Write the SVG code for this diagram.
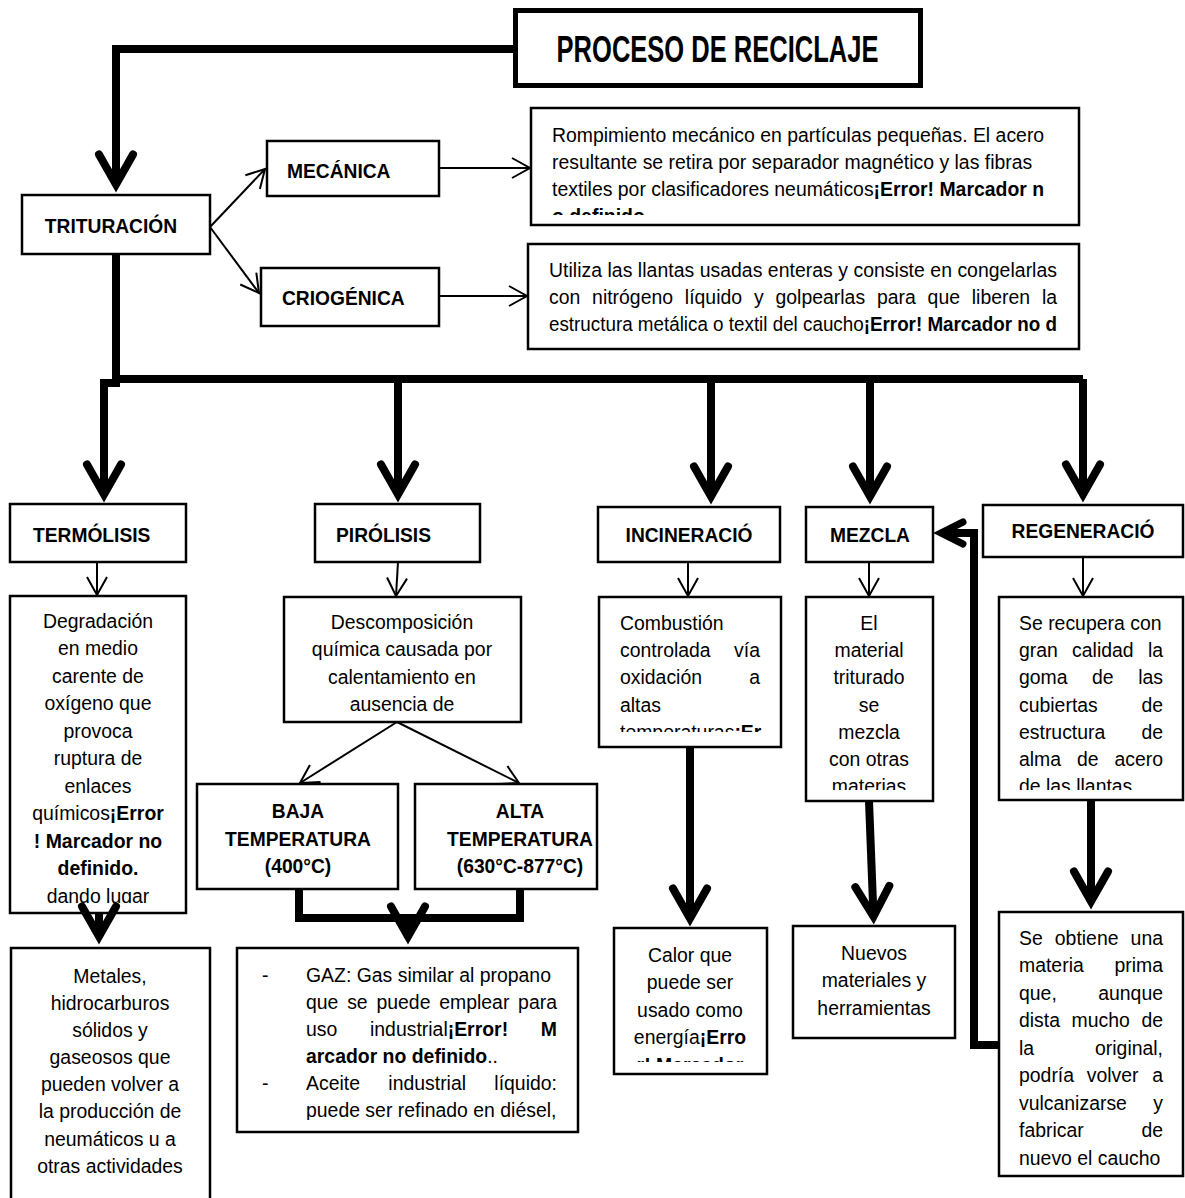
<svg xmlns="http://www.w3.org/2000/svg" width="1185" height="1198" viewBox="0 0 1185 1198">
<style>
  text { font-family: "Liberation Sans", Arial, sans-serif; fill: #000; }
  .t { font-size: 21px; }
  .b { font-weight: bold; }
  .h { font-size: 21px; font-weight: bold; }
  .ttl { font-size: 37px; font-weight: bold; }
  .box { fill: #fff; stroke: #000; stroke-width: 2.5; }
  .heavy { fill: #fff; stroke: #000; stroke-width: 5; }
  .thick { fill: none; stroke: #000; stroke-width: 8; }
  .thin { fill: none; stroke: #000; stroke-width: 2; }
  .big { marker-end: url(#chev); }
  .sm { marker-end: url(#chevSmall); }
  .open { marker-end: url(#vee); }
</style>
<defs>
  <marker id="chev" markerUnits="userSpaceOnUse" orient="auto" overflow="visible" markerWidth="1" markerHeight="1">
    <path d="M-30,-17 L0,0 L-30,17" fill="none" stroke="#000" stroke-width="8" stroke-linecap="round" stroke-linejoin="miter"/>
  </marker>
  <marker id="chevSmall" markerUnits="userSpaceOnUse" orient="auto" overflow="visible" markerWidth="1" markerHeight="1">
    <path d="M-22,-11 L0,0 L-22,11" fill="none" stroke="#000" stroke-width="7" stroke-linecap="round" stroke-linejoin="miter"/>
  </marker>
  <marker id="vee" markerUnits="userSpaceOnUse" orient="auto" overflow="visible" markerWidth="1" markerHeight="1">
    <path d="M-18,-10 L0,0 L-18,10" fill="none" stroke="#000" stroke-width="2"/>
  </marker>
  <clipPath id="cMec"><rect x="532" y="109" width="546" height="106"/></clipPath>
  <clipPath id="cTerm"><rect x="11" y="597" width="174" height="306"/></clipPath>
  <clipPath id="cPir"><rect x="285" y="598" width="235" height="116"/></clipPath>
  <clipPath id="cInc"><rect x="600" y="598" width="180" height="134"/></clipPath>
  <clipPath id="cMez"><rect x="807" y="598" width="125" height="192"/></clipPath>
  <clipPath id="cReg"><rect x="1000" y="598" width="182" height="192"/></clipPath>
  <clipPath id="cCalor"><rect x="615" y="929" width="151" height="133"/></clipPath>
  <clipPath id="cGaz"><rect x="238" y="949" width="339" height="171"/></clipPath>
</defs>

<!-- title -->
<g id="proceso">
  <rect class="heavy" x="515.5" y="10.5" width="405" height="75"/>
  <text class="ttl" text-anchor="middle" transform="translate(717.5 62) scale(0.69 1)">PROCESO DE RECICLAJE</text>
</g>

<g id="trituracion">
  <rect class="box" x="22" y="195" width="188" height="59"/>
  <text class="h" text-anchor="middle" transform="translate(111 233) scale(0.915 1)">TRITURACIÓN</text>
</g>

<g id="mecanica">
  <rect class="box" x="267" y="141" width="172" height="55"/>
  <text class="h" transform="translate(287 178) scale(0.915 1)">MECÁNICA</text>
</g>

<g id="criogenica">
  <rect class="box" x="261" y="268" width="178" height="58"/>
  <text class="h" transform="translate(282 305) scale(0.915 1)">CRIOGÉNICA</text>
</g>

<!-- body text blocks are narrowed around a pivot: translate(P) scale(0.925,1) translate(-P) -->
<g id="mecanica-desc">
  <rect class="box" x="531" y="108" width="548" height="117"/>
  <g clip-path="url(#cMec)">
    <g class="t" transform="translate(552 0) scale(0.925 1) translate(-552 0)">
      <text x="552" y="142">Rompimiento mecánico en partículas pequeñas. El acero</text>
      <text x="552" y="169">resultante se retira por separador magnético y las fibras</text>
      <text x="552" y="196">textiles por clasificadores neumáticos<tspan class="b">¡Error! Marcador n</tspan></text>
      <text x="552" y="223" class="b">o definido.</text>
    </g>
  </g>
</g>

<g id="criogenica-desc">
  <rect class="box" x="528" y="244" width="551" height="105"/>
  <g class="t" transform="translate(549 0) scale(0.925 1) translate(-549 0)">
    <text x="549" y="277" textLength="549.2" lengthAdjust="spacing">Utiliza las llantas usadas enteras y consiste en congelarlas</text>
    <text y="304"><tspan x="549">con</tspan><tspan x="595.6">nitrógeno</tspan><tspan x="695.9">líquido</tspan><tspan x="770.6">y</tspan><tspan x="793.9">golpearlas</tspan><tspan x="903.5">para</tspan><tspan x="958.3">que</tspan><tspan x="1006.1">liberen</tspan></text>
    <text x="1098.2" y="304" text-anchor="end">la</text>
    <text x="549" y="331" textLength="549.2" lengthAdjust="spacingAndGlyphs">estructura metálica o textil del caucho<tspan class="b">¡Error! Marcador no d</tspan></text>
  </g>
</g>

<!-- second level -->
<g id="termolisis">
  <rect class="box" x="10" y="504" width="176" height="58"/>
  <text class="h" transform="translate(33 542) scale(0.915 1)">TERMÓLISIS</text>
</g>
<g id="pirolisis">
  <rect class="box" x="315" y="504" width="165" height="58"/>
  <text class="h" transform="translate(336 542) scale(0.915 1)">PIRÓLISIS</text>
</g>
<g id="incineracion">
  <rect class="box" x="598" y="507" width="182" height="55"/>
  <text class="h" text-anchor="middle" transform="translate(689 542) scale(0.915 1)">INCINERACIÓ</text>
</g>
<g id="mezcla">
  <rect class="box" x="806" y="507" width="127" height="55"/>
  <text class="h" text-anchor="middle" transform="translate(870 542) scale(0.915 1)">MEZCLA</text>
</g>
<g id="regeneracion">
  <rect class="box" x="983" y="505" width="200" height="52"/>
  <text class="h" text-anchor="middle" transform="translate(1083 538) scale(0.915 1)">REGENERACIÓ</text>
</g>

<!-- descriptions -->
<g id="termolisis-desc">
  <rect class="box" x="10" y="596" width="176" height="317"/>
  <g clip-path="url(#cTerm)">
    <g class="t" text-anchor="middle" transform="translate(98 0) scale(0.925 1) translate(-98 0)">
      <text x="98" y="628">Degradación</text>
      <text x="98" y="655.5">en medio</text>
      <text x="98" y="683">carente de</text>
      <text x="98" y="710.5">oxígeno que</text>
      <text x="98" y="738">provoca</text>
      <text x="98" y="765.5">ruptura de</text>
      <text x="98" y="793">enlaces</text>
      <text x="98" y="820.5">químicos<tspan class="b">¡Error</tspan></text>
      <text x="98" y="848" class="b">! Marcador no</text>
      <text x="98" y="875.5" class="b">definido.</text>
      <text x="98" y="903">dando lugar</text>
    </g>
  </g>
</g>

<g id="pirolisis-desc">
  <rect class="box" x="284" y="597" width="237" height="125"/>
  <g clip-path="url(#cPir)">
    <g class="t" text-anchor="middle" transform="translate(402 0) scale(0.925 1) translate(-402 0)">
      <text x="402" y="629">Descomposición</text>
      <text x="402" y="656.5">química causada por</text>
      <text x="402" y="684">calentamiento en</text>
      <text x="402" y="711.5">ausencia de</text>
    </g>
  </g>
</g>

<g id="incineracion-desc">
  <rect class="box" x="599" y="597" width="182" height="150"/>
  <g clip-path="url(#cInc)">
    <g class="t" transform="translate(620 0) scale(0.925 1) translate(-620 0)">
      <text x="620" y="630">Combustión</text>
      <text x="620" y="657">controlada</text>
      <text x="771.3" y="657" text-anchor="end">vía</text>
      <text x="620" y="684.5">oxidación</text>
      <text x="771.3" y="684.5" text-anchor="end">a</text>
      <text x="620" y="712">altas</text>
      <text x="620" y="739">temperaturas<tspan class="b">¡Er</tspan></text>
    </g>
  </g>
</g>

<g id="mezcla-desc">
  <rect class="box" x="806" y="597" width="127" height="204"/>
  <g clip-path="url(#cMez)">
    <g class="t" text-anchor="middle" transform="translate(869 0) scale(0.925 1) translate(-869 0)">
      <text x="869" y="630">El</text>
      <text x="869" y="657">material</text>
      <text x="869" y="684.5">triturado</text>
      <text x="869" y="712">se</text>
      <text x="869" y="739">mezcla</text>
      <text x="869" y="766">con otras</text>
      <text x="869" y="793">materias</text>
    </g>
  </g>
</g>

<g id="regeneracion-desc">
  <rect class="box" x="999" y="597" width="184" height="203"/>
  <g clip-path="url(#cReg)">
    <g class="t" transform="translate(1019 0) scale(0.925 1) translate(-1019 0)">
      <text x="1019" y="630">Se recupera con</text>
      <text y="657"><tspan x="1019">gran</tspan><tspan x="1076.4">calidad</tspan></text>
      <text x="1174.7" y="657" text-anchor="end">la</text>
      <text y="684.5"><tspan x="1019">goma</tspan><tspan x="1098">de</tspan></text>
      <text x="1174.7" y="684.5" text-anchor="end">las</text>
      <text x="1019" y="712">cubiertas</text>
      <text x="1174.7" y="712" text-anchor="end">de</text>
      <text x="1019" y="739">estructura</text>
      <text x="1174.7" y="739" text-anchor="end">de</text>
      <text y="766"><tspan x="1019">alma</tspan><tspan x="1081.7">de</tspan></text>
      <text x="1174.7" y="766" text-anchor="end">acero</text>
      <text x="1019" y="793">de las llantas</text>
    </g>
  </g>
</g>

<!-- pirolisis branches -->
<g id="baja">
  <rect class="box" x="197" y="784" width="201" height="105"/>
  <g class="h" text-anchor="middle">
    <text transform="translate(298 818) scale(0.915 1)">BAJA</text>
    <text transform="translate(298 846) scale(0.915 1)">TEMPERATURA</text>
    <text transform="translate(298 873) scale(0.915 1)">(400°C)</text>
  </g>
</g>
<g id="alta">
  <rect class="box" x="415" y="784" width="182" height="105"/>
  <g class="h" text-anchor="middle">
    <text transform="translate(520 818) scale(0.915 1)">ALTA</text>
    <text transform="translate(520 846) scale(0.915 1)">TEMPERATURA</text>
    <text transform="translate(520 873) scale(0.915 1)">(630°C-877°C)</text>
  </g>
</g>

<!-- results -->
<g id="termolisis-result">
  <rect class="box" x="11" y="948" width="199" height="270"/>
  <g class="t" text-anchor="middle" transform="translate(110 0) scale(0.925 1) translate(-110 0)">
    <text x="110" y="983">Metales,</text>
    <text x="110" y="1010">hidrocarburos</text>
    <text x="110" y="1037">sólidos y</text>
    <text x="110" y="1064">gaseosos que</text>
    <text x="110" y="1091">pueden volver a</text>
    <text x="110" y="1118">la producción de</text>
    <text x="110" y="1146">neumáticos u a</text>
    <text x="110" y="1173">otras actividades</text>
  </g>
</g>

<g id="pirolisis-result">
  <rect class="box" x="237" y="948" width="341" height="184"/>
  <g clip-path="url(#cGaz)">
    <g class="t" transform="translate(306 0) scale(0.925 1) translate(-306 0)">
      <text x="258.4" y="982">-</text>
      <text x="306" y="982">GAZ: Gas similar al propano</text>
      <text y="1009"><tspan x="306">que</tspan><tspan x="350.5">se</tspan><tspan x="382.2">puede</tspan><tspan x="450">emplear</tspan></text>
      <text x="577.3" y="1009" text-anchor="end">para</text>
      <text y="1036"><tspan x="306">uso</tspan><tspan x="375.2">industrial</tspan><tspan class="b">¡Error!</tspan></text>
      <text x="577.3" y="1036" text-anchor="end" class="b">M</text>
      <text x="306" y="1063"><tspan class="b">arcador no definido</tspan>..</text>
      <text x="258.4" y="1090">-</text>
      <text y="1090"><tspan x="306">Aceite</tspan><tspan x="395">industrial</tspan></text>
      <text x="577.3" y="1090" text-anchor="end">líquido:</text>
      <text x="306" y="1117">puede ser refinado en diésel,</text>
    </g>
  </g>
</g>

<g id="incineracion-result">
  <rect class="box" x="614" y="928" width="153" height="146"/>
  <g clip-path="url(#cCalor)">
    <g class="t" text-anchor="middle" transform="translate(690 0) scale(0.925 1) translate(-690 0)">
      <text x="690" y="962">Calor que</text>
      <text x="690" y="989.5">puede ser</text>
      <text x="690" y="1017">usado como</text>
      <text x="690" y="1044.5">energía<tspan class="b">¡Erro</tspan></text>
      <text x="690" y="1072" class="b">r! Marcador</text>
    </g>
  </g>
</g>

<g id="mezcla-result">
  <rect class="box" x="793" y="926" width="162" height="112"/>
  <g class="t" text-anchor="middle" transform="translate(874 0) scale(0.925 1) translate(-874 0)">
    <text x="874" y="960">Nuevos</text>
    <text x="874" y="987.5">materiales y</text>
    <text x="874" y="1015">herramientas</text>
  </g>
</g>

<g id="regeneracion-result">
  <rect class="box" x="999" y="912" width="184" height="264"/>
  <g class="t" transform="translate(1019 0) scale(0.925 1) translate(-1019 0)">
    <text y="945"><tspan x="1019">Se</tspan><tspan x="1057.7">obtiene</tspan></text>
    <text x="1174.7" y="945" text-anchor="end">una</text>
    <text x="1019" y="972.5">materia</text>
    <text x="1174.7" y="972.5" text-anchor="end">prima</text>
    <text x="1019" y="1000">que,</text>
    <text x="1174.7" y="1000" text-anchor="end">aunque</text>
    <text y="1027.5"><tspan x="1019">dista</tspan><tspan x="1075.8">mucho</tspan></text>
    <text x="1174.7" y="1027.5" text-anchor="end">de</text>
    <text x="1019" y="1055">la</text>
    <text x="1174.7" y="1055" text-anchor="end">original,</text>
    <text y="1082.5"><tspan x="1019">podría</tspan><tspan x="1092.2">volver</tspan></text>
    <text x="1174.7" y="1082.5" text-anchor="end">a</text>
    <text x="1019" y="1110">vulcanizarse</text>
    <text x="1174.7" y="1110" text-anchor="end">y</text>
    <text x="1019" y="1137.5">fabricar</text>
    <text x="1174.7" y="1137.5" text-anchor="end">de</text>
    <text x="1019" y="1165">nuevo el caucho</text>
  </g>
</g>

<!-- connectors -->
<g id="connectors">
  <path class="thick big" d="M515,49 H116 V184.5"/>
  <path class="thick" d="M116,254 V379 H1083"/>
  <path class="thick big" d="M1083,379 V494.5"/>
  <path class="thick big" d="M120,383 H104 V494.5"/>
  <path class="thick big" d="M398,379 V494.5"/>
  <path class="thick big" d="M711,379 V496.5"/>
  <path class="thick big" d="M870,379 V496.5"/>
  <path class="thick big" d="M99,913 V936.5"/>
  <path class="thick" d="M299,889 V918 H520 V889"/>
  <path class="thick big" d="M408,918 V936.5"/>
  <path class="thick big" d="M690,747 V918.5"/>
  <path class="thick big" d="M869,801 L873.5,916.5"/>
  <path class="thick big" d="M1091,800 V901.5"/>
  <path class="thick sm" d="M999,1045 H974 V533 H941"/>

  <path class="thin open" d="M210,227 L265,169"/>
  <path class="thin open" d="M210,227 L259,293"/>
  <path class="thin open" d="M439,168 H530"/>
  <path class="thin open" d="M439,296 H527"/>
  <path class="thin open" d="M97,562 V595"/>
  <path class="thin open" d="M398,562 L396,596"/>
  <path class="thin open" d="M688,562 V596"/>
  <path class="thin open" d="M869,562 V596"/>
  <path class="thin open" d="M1083,557 V596"/>
  <path class="thin open" d="M397,722 L300,783"/>
  <path class="thin open" d="M397,722 L519,783"/>
</g>
</svg>
